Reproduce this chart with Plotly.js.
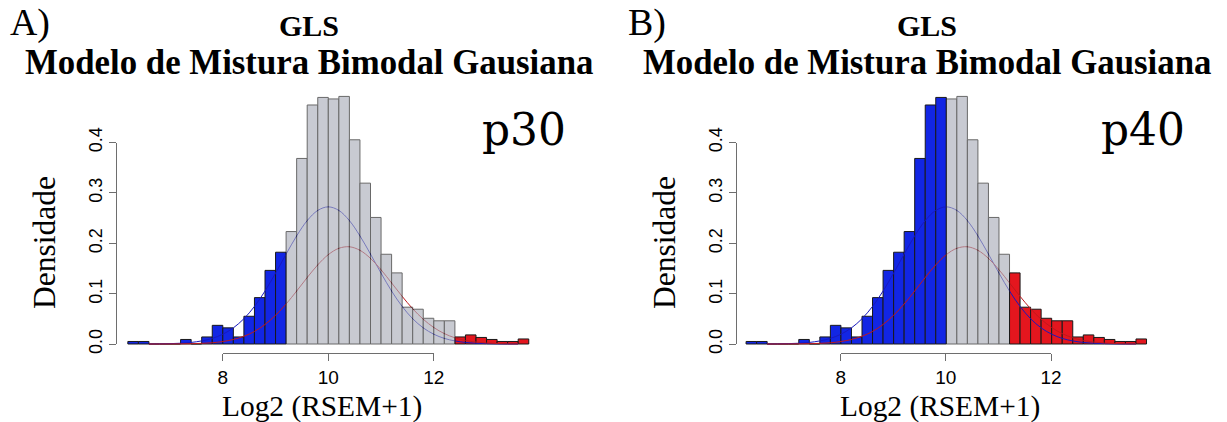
<!DOCTYPE html>
<html><head><meta charset="utf-8">
<script src="https://cdn.plot.ly/plotly-3.0.1.min.js"></script>
<style>html,body{margin:0;padding:0;background:#fff}#chart{width:1227px;height:422px}</style>
</head><body><div id="chart"></div>
<script>
// ---------- data ----------
const binLeft = [6.2,6.4,6.6,6.8,7.0,7.2,7.4,7.6,7.8,8.0,8.2,8.4,8.6,8.8,9.0,9.2,9.4,9.6,9.8,
                 10.0,10.2,10.4,10.6,10.8,11.0,11.2,11.4,11.6,11.8,12.0,12.2,12.4,12.6,12.8,13.0,13.2,13.4,13.6];
const density = [0.005,0.005,0,0,0,0.009,0,0.014,0.037,0.032,0.014,0.055,0.092,0.146,0.182,0.223,0.368,0.474,0.489,
                 0.486,0.491,0.405,0.319,0.251,0.178,0.141,0.073,0.069,0.051,0.046,0.046,0.014,0.018,0.013,0.009,0.005,0.005,0.010];
const binWidth = 0.2;
const cutoffsP30 = [9.2, 12.4];
const cutoffsP40 = [10.0, 11.2];
const curveX = [6.6,6.8,7.0,7.2,7.4,7.6,7.8,8.0,8.2,8.4,8.6,8.8,9.0,9.2,9.4,9.6,9.8,10.0,
                10.2,10.4,10.6,10.8,11.0,11.2,11.4,11.6,11.8,12.0,12.2,12.4,12.6,12.8,13.0,13.2,13.4,13.6];
const blueComponent = [0.0001,0.0003,0.0007,0.0015,0.0031,0.0061,0.0111,0.0194,0.0320,0.0501,0.0745,0.1050,0.1405,0.1782,0.2144,0.2447,0.2649,0.2720,
                       0.2649,0.2447,0.2144,0.1782,0.1405,0.1050,0.0745,0.0501,0.0320,0.0194,0.0111,0.0061,0.0031,0.0015,0.0007,0.0003,0.0001,0.0001];
const redComponent = [0.0000,0.0000,0.0001,0.0003,0.0006,0.0013,0.0025,0.0049,0.0089,0.0153,0.0249,0.0387,0.0569,0.0793,0.1050,0.1318,0.1569,0.1772,
                      0.1898,0.1928,0.1858,0.1698,0.1472,0.1211,0.0945,0.0699,0.0491,0.0327,0.0206,0.0123,0.0070,0.0038,0.0019,0.0009,0.0004,0.0002];
const xTicks = [8, 10, 12];
const yTicks = [0, 0.1, 0.2, 0.3, 0.4];
const panelLetters = ['A)', 'B)'];
const titleTop = 'GLS';
const titleMain = 'Modelo de Mistura Bimodal Gausiana';
const percentileLabels = ['p30', 'p40'];
const xLabel = 'Log2 (RSEM+1)';
const yLabel = 'Densidade';

// ---------- styling ----------
const W = 1227, H = 422;
const px = v => v / W, py = v => 1 - v / H;
const SERIF = '"Liberation Serif", "Times New Roman", serif';
const SERIF2 = '"DejaVu Serif", serif';
const SANS = '"Liberation Sans", Arial, sans-serif';
const ctx = document.createElement('canvas').getContext('2d');
function fit(text, fam, weight, target) {
  ctx.font = weight + ' 100px ' + fam;
  return Math.round(1000 * target / ctx.measureText(text).width) / 10;
}
const COL_BLUE = 'rgb(18,38,228)', COL_RED = 'rgb(228,22,30)', COL_GRAY = 'rgb(171,174,186)';
const GRAY_OPACITY = 0.65;
const CURVE_BLUE = 'rgb(25,25,190)', CURVE_RED = 'rgb(190,25,30)';
const OUTLINE = 'rgb(25,25,25)';
const AXIS_COL = 'rgb(110,110,110)';

const panels = [
  {cut: cutoffsP30, dataDom: [106.75, 549.85], decoDom: [222.7, 433.7], yPos: 116, cx: 309, letterX: 8, pX: 524, ylabX: 44, xlabX: 322},
  {cut: cutoffsP40, dataDom: [725.0, 1167.6], decoDom: [840.7, 1051.0], yPos: 736, cx: 927, letterX: 626, pX: 1143, ylabX: 664, xlabX: 940}
];

const traces = [];
const layout = {
  width: W, height: H, margin: {l: 0, r: 0, t: 0, b: 0},
  paper_bgcolor: '#fff', plot_bgcolor: 'rgba(0,0,0,0)',
  showlegend: false, barmode: 'overlay', annotations: []
};

const fsMain = fit(titleMain, SERIF, 'bold', 568);
const fsTop = fit(titleTop, SERIF, 'bold', 60);
const fsLetter = fit('A)', SERIF, 'normal', 40);
const fsP = fit('p30', SERIF2, 'normal', 84);
const fsYlab = fit(yLabel, SERIF, 'normal', 133);
const fsXlab = fit(xLabel, SERIF, 'normal', 200);

panels.forEach((p, i) => {
  const xd = i === 0 ? 'x' : 'x2', yd = i === 0 ? 'y' : 'y2';
  const yo = i === 0 ? 'y3' : 'y4';
  const xdec = i === 0 ? 'x5' : 'x6', ydec = i === 0 ? 'y5' : 'y6';
  const centers = binLeft.map(b => b + binWidth / 2);
  const pick = cond => {
    const xs = [], ys = [];
    binLeft.forEach((b, k) => { if (cond(b)) { xs.push(centers[k]); ys.push(density[k]); } });
    return {xs, ys};
  };
  const lo = pick(b => b < p.cut[0] - 1e-9);
  const hi = pick(b => b >= p.cut[1] - 1e-9);
  const mid = pick(b => b >= p.cut[0] - 1e-9 && b < p.cut[1] - 1e-9);
  const bar = (d, color, ya, extra) => Object.assign({type: 'bar', width: binWidth, hoverinfo: 'skip', x: d.xs, y: d.ys,
    xaxis: xd, yaxis: ya, marker: {color, line: {color: OUTLINE, width: 1}}}, extra || {});
  traces.push(bar(lo, COL_BLUE, yd));
  traces.push(bar(hi, COL_RED, yd));
  traces.push({type: 'scatter', mode: 'lines', x: curveX, y: blueComponent, xaxis: xd, yaxis: yd, line: {color: CURVE_BLUE, width: 1, shape: 'spline'}, hoverinfo: 'skip'});
  traces.push({type: 'scatter', mode: 'lines', x: curveX, y: redComponent, xaxis: xd, yaxis: yd, line: {color: CURVE_RED, width: 1, shape: 'spline'}, hoverinfo: 'skip'});
  traces.push(bar(mid, COL_GRAY, yo, {opacity: GRAY_OPACITY}));
  // decorative R-style axes
  traces.push({type: 'scatter', mode: 'markers', x: [xTicks[0], xTicks[xTicks.length - 1]], y: [yTicks[0], yTicks[yTicks.length - 1]],
               xaxis: xdec, yaxis: ydec, marker: {opacity: 0}, hoverinfo: 'skip'});

  const dataRangeY = [-0.01, 0.52];
  const yDom = [py(349.04), py(81.8)];
  const hidden = {visible: false, showgrid: false, zeroline: false, fixedrange: true};
  layout[i === 0 ? 'xaxis' : 'xaxis2'] = Object.assign({}, hidden, {domain: [px(p.dataDom[0]), px(p.dataDom[1])], range: [5.8, 14.2], anchor: yd});
  layout[i === 0 ? 'yaxis' : 'yaxis2'] = Object.assign({}, hidden, {domain: yDom, range: dataRangeY, anchor: xd});
  layout[i === 0 ? 'yaxis3' : 'yaxis4'] = Object.assign({}, hidden, {range: dataRangeY, overlaying: yd, anchor: xd});
  layout[i === 0 ? 'xaxis5' : 'xaxis6'] = {
    domain: [px(p.decoDom[0]), px(p.decoDom[1])], range: [xTicks[0], xTicks[xTicks.length - 1]],
    anchor: 'free', position: py(353.3), showline: true, linecolor: AXIS_COL, linewidth: 1,
    ticks: 'outside', ticklen: 7, tickcolor: AXIS_COL, tickwidth: 1, tickvals: xTicks, ticktext: xTicks.map(String),
    showgrid: false, zeroline: false, tickfont: {family: SANS, size: 19, color: '#000'}, fixedrange: true
  };
  layout[i === 0 ? 'yaxis5' : 'yaxis6'] = {
    domain: [py(344.3), py(142.5)], range: [yTicks[0], yTicks[yTicks.length - 1]],
    anchor: 'free', position: px(p.yPos), side: 'left', showline: true, linecolor: AXIS_COL, linewidth: 1,
    ticks: 'outside', ticklen: 7, tickcolor: AXIS_COL, tickwidth: 1, tickvals: yTicks, ticktext: yTicks.map(v => v.toFixed(1)),
    tickangle: -90, showgrid: false, zeroline: false, tickfont: {family: SANS, size: 18, color: '#000'}, fixedrange: true
  };

  const A = layout.annotations;
  const ann = (text, x, y, size, fam, extra) => A.push(Object.assign({
    text, x: px(x), y: py(y), xref: 'paper', yref: 'paper', showarrow: false,
    xanchor: 'center', yanchor: 'middle', font: {family: fam, size, color: '#000'}
  }, extra || {}));
  ann(panelLetters[i], p.letterX, 23, fsLetter, SERIF, {xanchor: 'left'});
  ann('<b>' + titleTop + '</b>', p.cx, 26, fsTop, SERIF);
  ann('<b>' + titleMain + '</b>', p.cx, 63, fsMain, SERIF);
  ann(percentileLabels[i], p.pX, 129, fsP, SERIF2);
  ann(yLabel, p.ylabX, 243, fsYlab, SERIF, {textangle: -90});
  ann(xLabel, p.xlabX, 406, fsXlab, SERIF);
});

Plotly.newPlot('chart', traces, layout, {staticPlot: true, displayModeBar: false});
</script>
</body></html>
